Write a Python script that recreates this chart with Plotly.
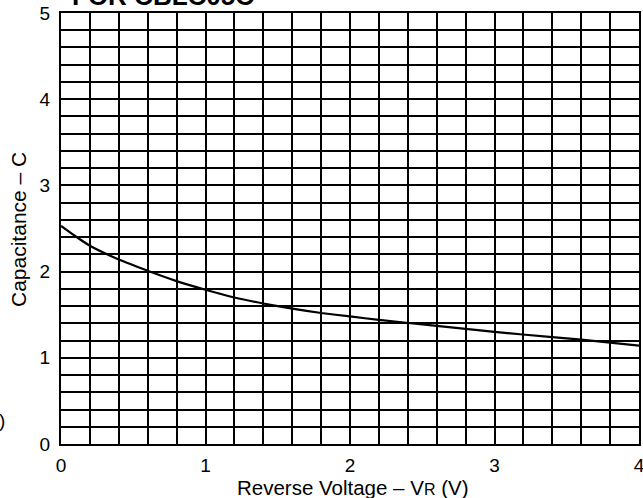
import plotly.graph_objects as go

# Data
voltage = [0, 0.1, 0.2, 0.4, 0.6, 0.8, 1.0, 1.2, 1.4, 1.6, 1.8, 2.0, 2.2, 2.6, 3.0, 3.4, 3.6, 4.0]
capacitance = [2.53, 2.41, 2.30, 2.14, 2.01, 1.89, 1.79, 1.70, 1.63, 1.57, 1.52, 1.48, 1.44, 1.37, 1.30, 1.24, 1.21, 1.14]

x_ticks = [0, 1, 2, 3, 4]
y_ticks = [0, 1, 2, 3, 4, 5]

FONT = "Liberation Sans, Arial, sans-serif"

fig = go.Figure()
fig.add_trace(go.Scatter(
    x=voltage, y=capacitance, mode="lines",
    line=dict(color="black", width=2.2, shape="spline", smoothing=0.6),
    showlegend=False, hoverinfo="skip",
))

axis_common = dict(
    showgrid=True, gridcolor="black", gridwidth=1.6,
    showline=True, linecolor="black", linewidth=2, mirror=True,
    zeroline=False, ticks="", automargin=False, ticklabeloverflow="allow",
    tickfont=dict(family=FONT, size=19, color="black"),
)

fig.update_xaxes(
    range=[0, 4], tickvals=x_ticks, ticktext=[str(t) for t in x_ticks],
    minor=dict(dtick=0.2, showgrid=True, gridcolor="black", gridwidth=1.6, ticks=""),
    ticklabelstandoff=3,
    **axis_common,
)
fig.update_yaxes(
    range=[0, 5], tickvals=y_ticks, ticktext=[str(t) for t in y_ticks],
    minor=dict(dtick=0.2, showgrid=True, gridcolor="black", gridwidth=1.6, ticks=""),
    ticklabelstandoff=5,
    **axis_common,
)

W, H = 643, 498
L, R, T, B = 61, 4, 13, 54
pw, ph = W - L - R, H - T - B

def px_x(px):
    return (px - L) / pw

def px_y(py):
    return (H - B - py) / ph

annotations = [
    dict(text="<b>FOR CBLC05C</b>", x=px_x(70), y=px_y(-4), xref="paper", yref="paper",
         xanchor="left", yanchor="middle", showarrow=False,
         font=dict(family=FONT, size=26, color="black")),
    dict(text="Capacitance – C", x=px_x(18), y=px_y(230), xref="paper", yref="paper",
         xanchor="center", yanchor="middle", textangle=-90, showarrow=False,
         font=dict(family=FONT, size=21, color="black")),
    dict(text='Reverse Voltage – V<span style="font-size:16px">R</span> (V)',
         x=px_x(353), y=px_y(487), xref="paper", yref="paper",
         xanchor="center", yanchor="middle", showarrow=False,
         font=dict(family=FONT, size=20.5, color="black")),
    dict(text=")", x=px_x(-3), y=px_y(420), xref="paper", yref="paper",
         xanchor="left", yanchor="middle", showarrow=False,
         font=dict(family=FONT, size=19, color="black")),
]

fig.update_layout(
    width=W, height=H,
    margin=dict(l=L, r=R, t=T, b=B, pad=0),
    paper_bgcolor="white", plot_bgcolor="white",
    annotations=annotations,
    font=dict(family=FONT, color="black"),
)

fig.write_html(
    "out.html",
    config={"displayModeBar": False},
    post_script="document.body.style.margin='0';document.body.style.overflow='hidden';",
)
